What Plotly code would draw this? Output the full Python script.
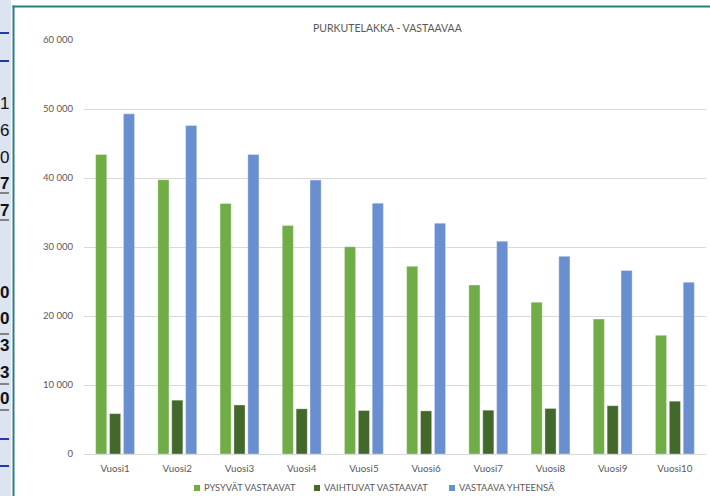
import plotly.graph_objects as go

# Data
years = ["Vuosi1", "Vuosi2", "Vuosi3", "Vuosi4", "Vuosi5",
         "Vuosi6", "Vuosi7", "Vuosi8", "Vuosi9", "Vuosi10"]
pysyvat = [43400, 39750, 36300, 33100, 30050, 27200, 24500, 22000, 19550, 17200]
vaihtuvat = [5850, 7800, 7100, 6550, 6300, 6250, 6350, 6600, 7000, 7650]
yhteensa = [49300, 47600, 43400, 39700, 36350, 33450, 30850, 28650, 26600, 24900]

series_names = ["PYSYVÄT VASTAAVAT", "VAIHTUVAT VASTAAVAT", "VASTAAVA YHTEENSÄ"]
series_colors = ["#70AD47", "#43682B", "#6A8FD0"]
title_text = "PURKUTELAKKA - VASTAAVAA"

# Side cells of the sheet visible next to the chart
cell_digits = ["1", "6", "0", "7", "7", "0", "0", "3", "3", "0"]
cell_bold = [False, False, False, True, True, True, True, True, True, True]

FW, FH = 710, 496
L, R, T, B = 84, 706, 40, 454
W, H = R - L, B - T
GRAY = "#595959"
FONT = "Lato, 'Open Sans', sans-serif"


def px(x):
    return (x - L) / W


def py(y):
    return (B - y) / H


fig = go.Figure()
for name, vals, col in zip(series_names, [pysyvat, vaihtuvat, yhteensa], series_colors):
    fig.add_trace(go.Bar(
        x=years, y=vals, name=name,
        marker=dict(color=col, line=dict(color="rgba(255,255,255,0.55)", width=0.6)),
        showlegend=False,
    ))

shapes = []
annotations = []

# Sheet strip on the left edge
shapes.append(dict(type="rect", xref="paper", yref="paper",
                   x0=px(0), x1=px(11), y0=py(FH), y1=py(0),
                   fillcolor="#DCE3F1", line=dict(width=0), layer="below"))
for yy in [33, 61, 439, 466]:
    shapes.append(dict(type="line", xref="paper", yref="paper",
                       x0=px(0), x1=px(9), y0=py(yy), y1=py(yy),
                       line=dict(color="#2638A8", width=2)))
cell_y = [103, 130, 157, 183, 211, 292, 318, 345, 372, 398]
for d, b, yy in zip(cell_digits, cell_bold, cell_y):
    annotations.append(dict(
        xref="paper", yref="paper", x=px(11), y=py(yy),
        xanchor="right", yanchor="middle", showarrow=False,
        text=f"<b>{d}</b>" if b else d,
        font=dict(family="'Liberation Sans', Arial, sans-serif", size=17, color="#111111"),
    ))
for yy in [193, 220, 334, 384, 410]:
    shapes.append(dict(type="line", xref="paper", yref="paper",
                       x0=px(0), x1=px(9), y0=py(yy), y1=py(yy),
                       line=dict(color="#222222", width=1)))

# Chart frame
shapes.append(dict(type="line", xref="paper", yref="paper",
                   x0=px(13.5), x1=px(13.5), y0=py(5.5), y1=py(FH),
                   line=dict(color="#2C7C85", width=2)))
shapes.append(dict(type="line", xref="paper", yref="paper",
                   x0=px(12.5), x1=px(FW), y0=py(6.5), y1=py(6.5),
                   line=dict(color="#2C7C85", width=2)))

# Title
annotations.append(dict(
    xref="paper", yref="paper", x=px(388), y=py(28),
    xanchor="center", yanchor="middle", showarrow=False,
    text=title_text, font=dict(family=FONT, size=10.5, color=GRAY),
))

# Legend
legend_x = [194, 314, 449]
for name, col, lx in zip(series_names, series_colors, legend_x):
    shapes.append(dict(type="rect", xref="paper", yref="paper",
                       x0=px(lx), x1=px(lx + 6), y0=py(491), y1=py(485),
                       fillcolor=col, line=dict(width=0)))
    annotations.append(dict(
        xref="paper", yref="paper", x=px(lx + 7.5), y=py(488),
        xanchor="left", yanchor="middle", showarrow=False,
        text=name, font=dict(family=FONT, size=9.3, color=GRAY),
    ))

fig.update_layout(
    width=FW, height=FH,
    margin=dict(l=L, r=FW - R, t=T, b=FH - B),
    paper_bgcolor="white", plot_bgcolor="white",
    barmode="group", bargap=0.33, bargroupgap=0.2,
    separators=", ",
    font=dict(family=FONT, color=GRAY, size=9),
    shapes=shapes, annotations=annotations,
    showlegend=False,
)
fig.update_yaxes(
    range=[0, 60000], dtick=10000, tickformat=",d",
    showgrid=True, gridcolor="#D9D9D9", gridwidth=1,
    zeroline=True, zerolinecolor="#D9D9D9", zerolinewidth=1,
    showline=False, ticks="", ticklabelstandoff=10,
    tickfont=dict(family=FONT, size=9.5, color=GRAY),
    fixedrange=True,
)
fig.update_xaxes(
    showgrid=False, showline=False, ticks="", ticklabelstandoff=7,
    tickfont=dict(family=FONT, size=9.8, color=GRAY),
    fixedrange=True,
)

fig.write_html("out.html")
